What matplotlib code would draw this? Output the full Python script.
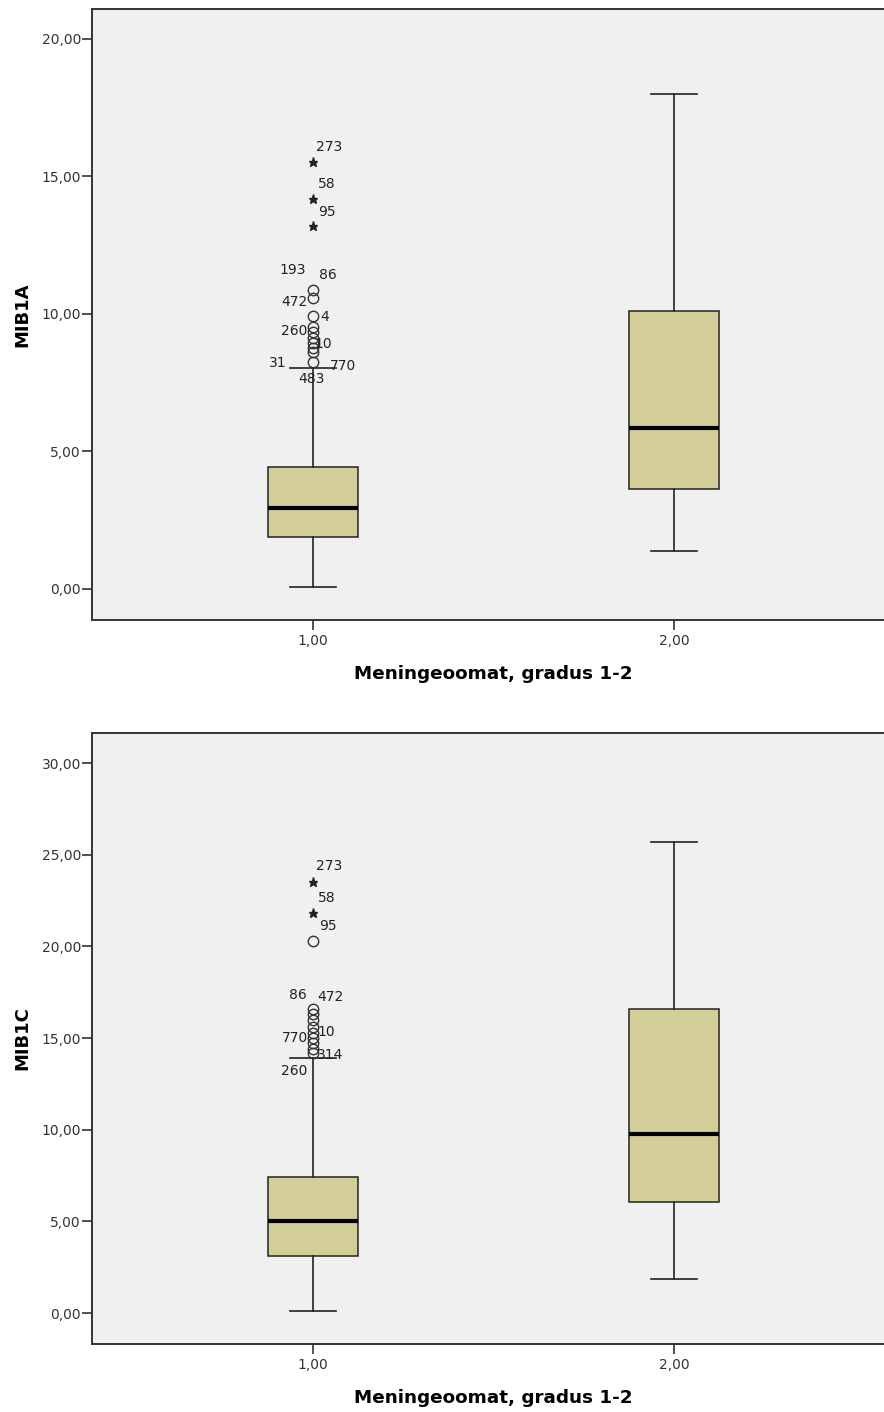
import matplotlib
matplotlib.use("Agg")
import matplotlib.pyplot as plt
from matplotlib.ticker import FuncFormatter

plt.rcParams['font.family'] = ['DejaVu Sans']

categories = [1.0, 2.0]
cat_labels = ["1,00", "2,00"]
xlabel = "Meningeoomat, gradus 1-2"

# MIB1A
a_whislo = [0.08, 1.38]
a_q1 = [1.89, 3.64]
a_med = [2.95, 5.85]
a_q3 = [4.44, 10.11]
a_whishi = [8.02, 18.0]
a_circles = [10.87, 10.57, 9.94, 9.54, 9.36, 9.12, 8.93, 8.75, 8.60, 8.27]
a_stars = [15.52, 14.18, 13.20]
a_labels = [("273", 15.52, 16, -15), ("58", 14.18, 14, -15), ("95", 13.20, 14, -14),
            ("193", 10.87, -20, -20), ("86", 10.57, 15, -23), ("472", 10.57, -19, 4),
            ("4", 9.94, 12, 1), ("260", 9.54, -19, 4), ("10", 8.93, 10, 1),
            ("31", 8.27, -35, 1), ("770", 8.02, 30, -2), ("483", 8.02, -1, 11)]

# MIB1C
c_whislo = [0.11, 1.85]
c_q1 = [3.11, 6.05]
c_med = [5.02, 9.76]
c_q3 = [7.42, 16.58]
c_whishi = [13.92, 25.69]
c_circles = [20.31, 16.56, 16.31, 15.98, 15.62, 15.26, 14.98, 14.75, 14.39, 14.20]
c_stars = [23.53, 21.80]
c_labels = [("273", 23.53, 16, -16), ("58", 21.80, 14, -15), ("95", 20.31, 15, -15),
            ("86", 16.56, -15, -14), ("472", 16.56, 17, -12), ("770", 14.98, -18, 0),
            ("10", 15.26, 13, -1), ("314", 14.20, 17, 2), ("260", 14.20, -19, 18)]

W, H = 884, 1412
fig = plt.figure(figsize=(W / 100, H / 100), dpi=100)
fig.patch.set_facecolor('white')

BG = '#f0f0f0'
FILL = '#d3ce97'

def fmt(v, p):
    return ("%.2f" % v).replace('.', ',')

def panel(rect_px, ylim, yticks, ylabel, whislo, q1, med, q3, whishi, circles, stars, labels):
    l, t, r, b = rect_px
    ax = fig.add_axes([l / W, 1 - b / H, (r - l) / W, (b - t) / H])
    ax.set_facecolor(BG)
    stats = []
    for i in range(len(categories)):
        stats.append(dict(whislo=whislo[i], q1=q1[i], med=med[i], q3=q3[i], whishi=whishi[i],
                          fliers=circles if i == 0 else []))
    ax.bxp(stats, positions=categories, widths=0.25, patch_artist=True,
           boxprops=dict(facecolor=FILL, edgecolor='#222222', linewidth=1.1),
           medianprops=dict(color='black', linewidth=3.0),
           whiskerprops=dict(color='#222222', linewidth=1.2),
           capprops=dict(color='#222222', linewidth=1.2),
           capwidths=0.127,
           flierprops=dict(marker='o', markerfacecolor='none', markeredgecolor='#333333',
                           markersize=7.5, markeredgewidth=1.0, linestyle='none'))
    ax.plot([categories[0]] * len(stars), stars, linestyle='none', marker='*',
            color='#222222', markersize=6.5)
    for txt, yv, dx, dy in labels:
        ax.annotate(txt, (categories[0], yv), xytext=(dx * 0.72, -dy * 0.72),
                    textcoords='offset points', ha='center', va='center',
                    fontsize=10, color='#222222')
    ax.set_xlim(0.388, 2.612)
    ax.set_ylim(*ylim)
    ax.set_yticks(yticks)
    ax.yaxis.set_major_formatter(FuncFormatter(fmt))
    ax.set_xticks(categories)
    ax.set_xticklabels(cat_labels)
    ax.tick_params(axis='both', direction='out', length=7, width=1.2, color='#333333',
                   labelsize=10, labelcolor='#333333')
    ax.tick_params(axis='y', pad=1)
    ax.tick_params(axis='x', pad=3)
    for s in ['top', 'left', 'bottom']:
        ax.spines[s].set_color('#333333')
        ax.spines[s].set_linewidth(1.4)
    ax.spines['right'].set_visible(False)
    ax.set_ylabel(ylabel, fontsize=13, fontweight='bold', labelpad=7)
    ax.set_xlabel(xlabel, fontsize=13.2, fontweight='bold', labelpad=12)
    return ax

panel((92, 9, 895, 620), (-1.13, 21.09), [0, 5, 10, 15, 20], "MIB1A",
      a_whislo, a_q1, a_med, a_q3, a_whishi, a_circles, a_stars, a_labels)
panel((92, 733, 895, 1344), (-1.69, 31.64), [0, 5, 10, 15, 20, 25, 30], "MIB1C",
      c_whislo, c_q1, c_med, c_q3, c_whishi, c_circles, c_stars, c_labels)

fig.savefig("out.png", dpi=100)
